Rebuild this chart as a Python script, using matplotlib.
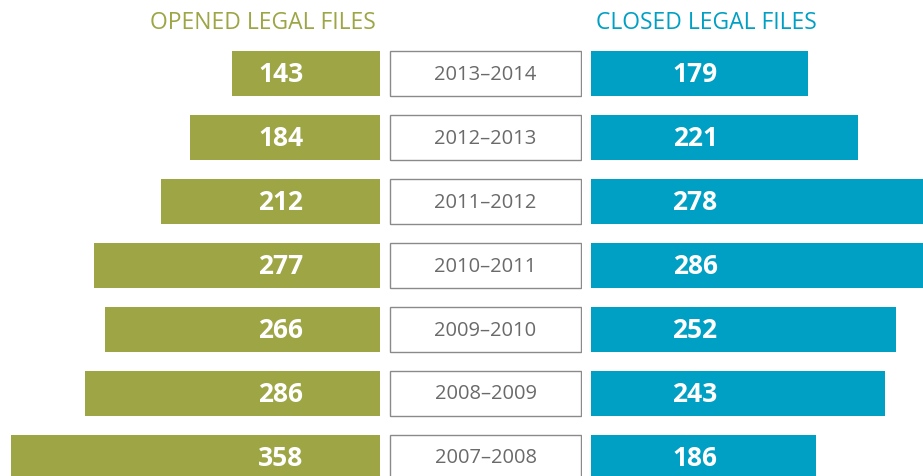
import numpy as np
import matplotlib.pyplot as plt

# data, top row first
years = ['2013–2014', '2012–2013', '2011–2012', '2010–2011',
         '2009–2010', '2008–2009', '2007–2008']
opened = [143, 184, 212, 277, 266, 286, 358]
closed = [179, 221, 278, 286, 252, 243, 186]

olive = '#9da544'
teal = '#00a0c4'
W, H = 923, 477

plt.rcParams['font.family'] = ['Open Sans', 'DejaVu Sans']
fig = plt.figure(figsize=(W / 100, H / 100), dpi=100)

# rows are 64 px apart, first centre at y~74 px
top_px = 42.5
ylim = (-0.5 + (H - top_px) / 64, -0.5)
ax_h = (H - top_px) / H

def make_ax(x0, x1):
    a = fig.add_axes([x0 / W, 0, (x1 - x0) / W, ax_h])
    a.set_ylim(*ylim)
    a.axis('off')
    return a

ypos = np.arange(len(years))
bar_h = 45 / 64

# opened, growing to the left
ax_l = make_ax(0, 380)
ax_l.barh(ypos, opened, height=bar_h, color=olive)
ax_l.set_xlim(380 / 1.032, 0)
for y, v in zip(ypos, opened):
    ax_l.text(96, y, str(v), ha='center', va='center', color='white',
              fontsize=19, fontweight='bold')

# year boxes in the middle
ax_m = make_ax(389, 582)
ax_m.barh(ypos, [1] * len(years), height=bar_h, color='white',
          edgecolor='#8a8a8a', linewidth=1)
ax_m.set_xlim(-0.005, 1.005)
for y, lab in zip(ypos, years):
    ax_m.text(0.5, y, lab, ha='center', va='center', color='#6a6a6a',
              fontsize=14.5)

# closed, growing to the right
ax_r = make_ax(591, W)
ax_r.barh(ypos, closed, height=bar_h, color=teal)
ax_r.set_xlim(0, (W - 591) / 1.21)
for y, v in zip(ypos, closed):
    ax_r.text(86, y, str(v), ha='center', va='center', color='white',
              fontsize=19, fontweight='bold')

fig.text(263 / W, 1 - 23 / H, 'OPENED LEGAL FILES', ha='center', va='center',
         color=olive, fontsize=16.5)
fig.text(706 / W, 1 - 23 / H, 'CLOSED LEGAL FILES', ha='center', va='center',
         color=teal, fontsize=16.5)

fig.savefig('out.png', dpi=100)
